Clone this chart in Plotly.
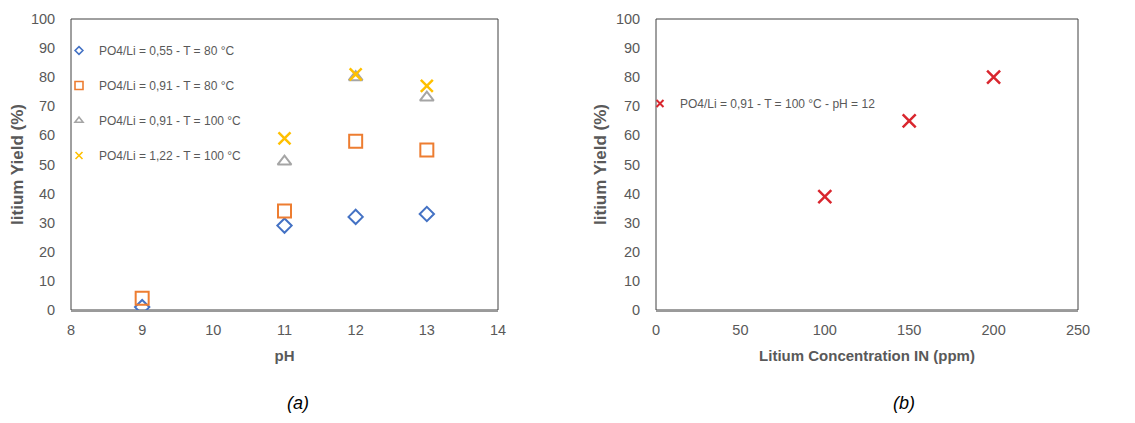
import plotly.graph_objects as go

# ---- data (a) ----
ph_s1 = [9, 11, 12, 13]
yield_s1 = [1, 29, 32, 33]
ph_s2 = [9, 11, 12, 13]
yield_s2 = [4, 34, 58, 55]
ph_s3 = [11, 12, 13]
yield_s3 = [51, 80, 73]
ph_s4 = [11, 12, 13]
yield_s4 = [59, 81, 77]
names_a = ["PO4/Li = 0,55 - T = 80 °C", "PO4/Li = 0,91 - T = 80 °C",
           "PO4/Li = 0,91 - T = 100 °C", "PO4/Li = 1,22 - T = 100 °C"]

# ---- data (b) ----
conc_b = [100, 150, 200]
yield_b = [39, 65, 80]
name_b = "PO4/Li = 0,91 - T = 100 °C - pH = 12"

y_ticks = [0, 10, 20, 30, 40, 50, 60, 70, 80, 90, 100]
x1_ticks = [8, 9, 10, 11, 12, 13, 14]
x2_ticks = [0, 50, 100, 150, 200, 250]

W, H = 1135, 423
OFF = 8  # page body margin
def px(x): return (x - OFF) / W
def py(y): return 1 - (y - OFF) / H

TICK = "#595959"
FONT = "Liberation Sans, Arial, sans-serif"

styles_a = [
    dict(symbol="diamond-open", size=11, color="#4472C4", lw=2),
    dict(symbol="square-open", size=13, color="#ED7D31", lw=2),
    dict(symbol="triangle-up-open", size=12, color="#A5A5A5", lw=2),
    dict(symbol="x-thin-open", size=12, color="#FFC000", lw=2.5),
]
legend_sizes_a = [6, 8, 7, 7]
xs_a = [ph_s1, ph_s2, ph_s3, ph_s4]
ys_a = [yield_s1, yield_s2, yield_s3, yield_s4]

fig = go.Figure()
for i in range(4):
    s = styles_a[i]
    fig.add_trace(go.Scatter(x=xs_a[i], y=ys_a[i], mode="markers", name=names_a[i], legendgroup=f"a{i}",
                             showlegend=False,
                             marker=dict(symbol=s["symbol"], size=s["size"], color=s["color"],
                                         line=dict(width=s["lw"], color=s["color"]))))
for i in range(4):
    s = styles_a[i]
    fig.add_trace(go.Scatter(x=[None], y=[None], mode="markers", name=names_a[i], legendgroup=f"a{i}",
                             marker=dict(symbol=s["symbol"], size=legend_sizes_a[i], color=s["color"],
                                         line=dict(width=1.6, color=s["color"]))))

RED = "#D9262E"
fig.add_trace(go.Scatter(x=conc_b, y=yield_b, mode="markers", name=name_b, xaxis="x2", yaxis="y2",
                         showlegend=False, legendgroup="b",
                         marker=dict(symbol="x-thin-open", size=13, color=RED, line=dict(width=2.5, color=RED))))
fig.add_trace(go.Scatter(x=[None], y=[None], mode="markers", name=name_b, xaxis="x2", yaxis="y2",
                         legend="legend2", legendgroup="b",
                         marker=dict(symbol="x-thin-open", size=7, color=RED, line=dict(width=2, color=RED))))

ydom = [py(310), py(19)]
common_y = dict(range=[0, 100], tickvals=y_ticks, showgrid=False, zeroline=False,
                showline=False, automargin=False,
                ticks="outside", ticklen=12, tickcolor="rgba(0,0,0,0)",
                tickfont=dict(family=FONT, size=14.5, color=TICK),
                title=dict(text="<b>litium Yield (%)</b>", font=dict(family=FONT, size=17, color=TICK), standoff=4),
                domain=ydom)
common_x = dict(showgrid=False, zeroline=False, showline=True, linecolor="#9A9A9A", linewidth=1.5,
                automargin=False,
                ticks="outside", ticklen=6, tickcolor="rgba(0,0,0,0)",
                tickfont=dict(family=FONT, size=14.5, color=TICK))

frame = dict(type="rect", x0=0, x1=1, y0=0, y1=1, line=dict(color="#404040", width=1), layer="below")

fig.update_layout(
    width=W, height=H, margin=dict(l=0, r=0, t=0, b=0, autoexpand=False),
    paper_bgcolor="white", plot_bgcolor="white",
    xaxis=dict(common_x, range=[8, 14], tickvals=x1_ticks, domain=[px(71), px(498)], anchor="y",
               title=dict(text="<b>pH</b>", font=dict(family=FONT, size=15, color=TICK), standoff=13)),
    yaxis=dict(common_y, anchor="x"),
    xaxis2=dict(common_x, range=[0, 250], tickvals=x2_ticks, domain=[px(656), px(1078)], anchor="y2",
                title=dict(text="<b>Litium Concentration IN (ppm)</b>", font=dict(family=FONT, size=15, color=TICK), standoff=13)),
    yaxis2=dict(common_y, anchor="x2"),
    legend=dict(x=px(59), y=py(36), xanchor="left", yanchor="top", bgcolor="rgba(0,0,0,0)",
                font=dict(family=FONT, size=12, color=TICK), tracegroupgap=16, itemsizing="trace"),
    legend2=dict(x=px(640), y=py(89), xanchor="left", yanchor="top", bgcolor="rgba(0,0,0,0)",
                 font=dict(family=FONT, size=12, color=TICK), itemsizing="trace"),
    shapes=[dict(frame, xref="x domain", yref="y domain"),
            dict(frame, xref="x2 domain", yref="y2 domain")],
    annotations=[
        dict(text="<i>(a)</i>", x=px(285), y=py(415), xref="paper", yref="paper", showarrow=False,
             font=dict(family=FONT, size=18, color="black")),
        dict(text="<i>(b)</i>", x=px(917), y=py(415), xref="paper", yref="paper", showarrow=False,
             font=dict(family=FONT, size=18, color="black")),
    ],
)

fig.write_html("out.html")
